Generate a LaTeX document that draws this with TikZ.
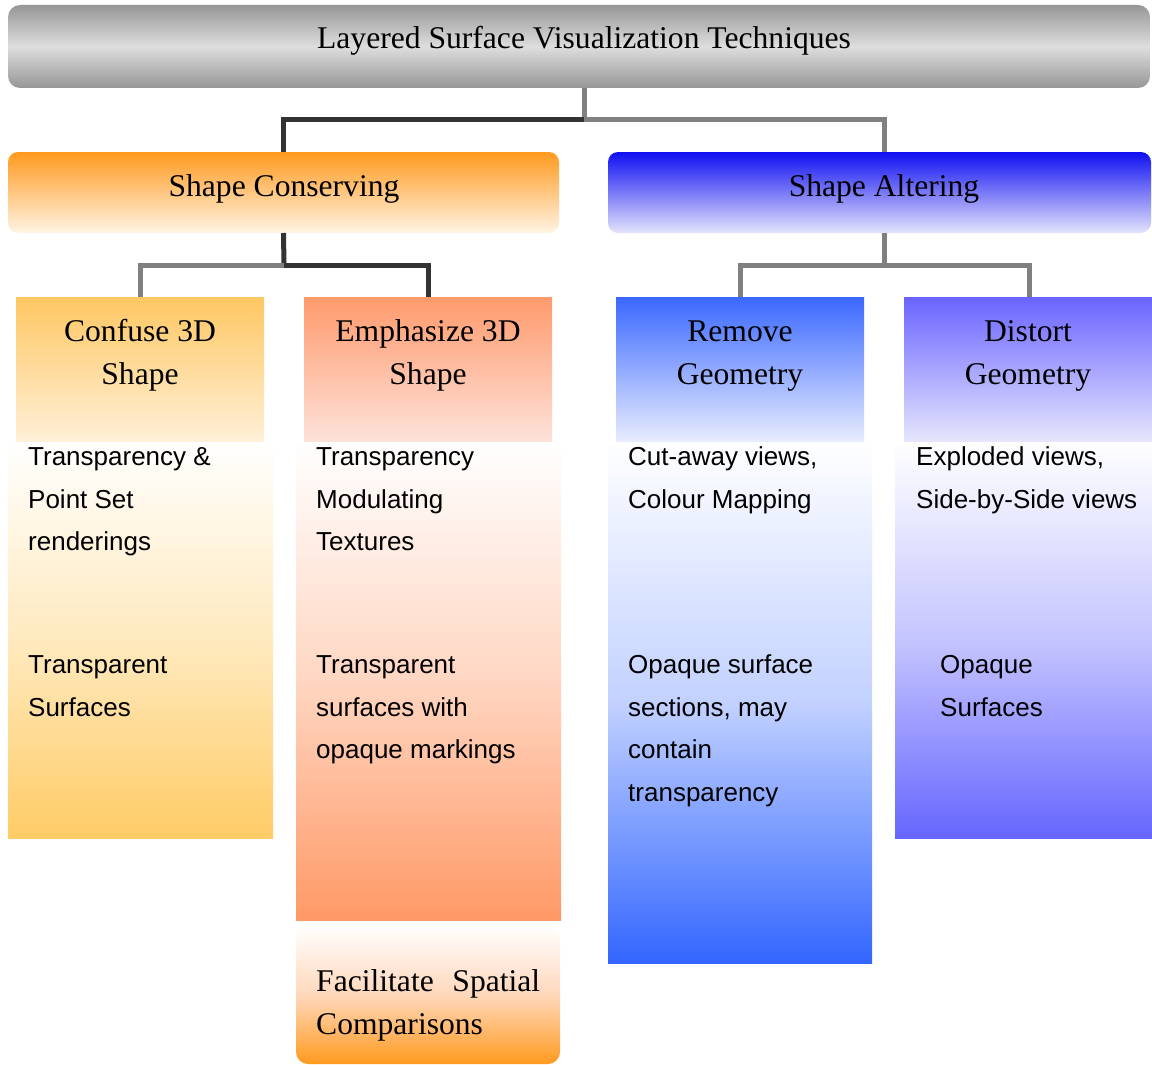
\documentclass[tikz,border=0pt]{standalone}
\usepackage{fontspec}
\setmainfont{Liberation Serif}
\setsansfont{Liberation Sans}
\usetikzlibrary{calc}
\definecolor{grayA}{HTML}{969696}
\definecolor{grayB}{HTML}{DEDEDE}
\definecolor{orgA}{HTML}{FF9A1F}
\definecolor{orgB}{HTML}{FFF4E4}
\definecolor{bluA}{HTML}{1010F2}
\definecolor{bluB}{HTML}{E4E4FC}
\definecolor{cfA}{HTML}{FEC762}
\definecolor{cfB}{HTML}{FFF0D8}
\definecolor{cfC}{HTML}{FFCC66}
\definecolor{emA}{HTML}{FF9A6C}
\definecolor{emB}{HTML}{FDE2DA}
\definecolor{emC}{HTML}{FF9966}
\definecolor{rgA}{HTML}{3A68FF}
\definecolor{rgB}{HTML}{E8ECFE}
\definecolor{rgC}{HTML}{3366FF}
\definecolor{dgA}{HTML}{6A64FF}
\definecolor{dgB}{HTML}{E6E6FE}
\definecolor{dgC}{HTML}{6666FF}
\definecolor{fsA}{HTML}{FF9A1F}
\definecolor{fsM}{HTML}{FFD8BC}
\definecolor{linedark}{HTML}{333333}
\definecolor{linegray}{HTML}{808080}
\begin{document}
\begin{tikzpicture}[x=1pt,y=-1pt,
  box/.style={anchor=north west, inner sep=0pt, outer sep=0pt, draw=none},
  hd/.style={font=\fontsize{31.6}{43}\selectfont, anchor=base, align=center, inner sep=0pt},
  bd/.style={font=\sffamily\fontsize{26}{42.5}\selectfont, anchor=base west, align=left, inner sep=0pt},
  darkline/.style={draw=linedark, line width=5pt},
  grayline/.style={draw=linegray, line width=5pt},
]
\useasboundingbox (0,0) rectangle (1152,1065);
\fill[white] (0,0) rectangle (1152,1065);

% top bar
\node[box, minimum width=1142pt, minimum height=83pt, rounded corners=12pt,
      top color=grayA, bottom color=grayA, middle color=grayB] (top) at (8,5) {};
\node[hd] (toptxt) at (584,49) {Layered Surface Visualization Techniques};

% level 2
\node[box, minimum width=551pt, minimum height=81pt, rounded corners=10pt,
      top color=orgA, bottom color=orgB] (sc) at (8,152) {};
\node[hd] (sctxt) at (284,196) {Shape Conserving};
\node[box, minimum width=543pt, minimum height=81pt, rounded corners=10pt,
      top color=bluA, bottom color=bluB] (sa) at (608,152) {};
\node[hd] (satxt) at (884,196) {Shape Altering};

% content boxes
\node[box, minimum width=265pt, minimum height=397pt,
      top color=white, bottom color=cfC, middle color=cfC!42!white] (cfb) at (8,441) {};
\node[box, minimum width=265pt, minimum height=479pt,
      top color=white, bottom color=emC, middle color=emC!40!white] (emb) at (296,441) {};
\node[box, minimum width=264pt, minimum height=522pt,
      top color=white, bottom color=rgC, middle color=rgC!30!white] (rgb) at (608,441) {};
\node[box, minimum width=260pt, minimum height=397pt,
      top color=white, bottom color=dgC, middle color=dgC!38!white] (dgb) at (895,441) {};

% level 3 headers
\node[box, minimum width=248pt, minimum height=144pt,
      top color=cfA, bottom color=cfB] (cf) at (16,297) {};
\node[box, minimum width=248pt, minimum height=144pt,
      top color=emA, bottom color=emB] (em) at (304,297) {};
\node[box, minimum width=248pt, minimum height=144pt,
      top color=rgA, bottom color=rgB] (rg) at (616,297) {};
\node[box, minimum width=250pt, minimum height=144pt,
      top color=dgA, bottom color=dgB] (dg) at (904,297) {};

% (base anchor = last line's baseline)
\node[hd] (cftxt) at (140,384) {Confuse 3D\\Shape};
\node[hd] (emtxt) at (428,384) {Emphasize 3D\\Shape};
\node[hd] (rgtxt) at (740,384) {Remove\\Geometry};
\node[hd] (dgtxt) at (1028,384) {Distort\\Geometry};

% facilitate box
\node[box, minimum width=264pt, minimum height=139pt, rounded corners=12pt,
      top color=white, bottom color=fsA, middle color=fsM] (fs) at (296,925) {};
\node[hd, anchor=base west, align=left] (fstxt) at (316,1034)
      {\makebox[224pt][s]{Facilitate\hfill Spatial}\\Comparisons};

% body texts
\node[bd] (cf1) at (28,550.5) {Transparency \&\\Point Set\\renderings};
\node[bd] (cf2) at (28,716) {Transparent\\Surfaces};
\node[bd] (em1) at (316,550.5) {Transparency\\Modulating\\Textures};
\node[bd] (em2) at (316,758.5) {Transparent\\surfaces with\\opaque markings};
\node[bd] (rg1) at (628,508) {Cut-away views,\\Colour Mapping};
\node[bd] (rg2) at (628,801) {Opaque surface\\sections, may\\contain\\transparency};
\node[bd] (dg1) at (916,508) {Exploded views,\\Side-by-Side views};
\node[bd] (dg2) at (940,716) {Opaque\\Surfaces};

% connectors
\coordinate (j1) at (584,119);
\coordinate (j2) at (284,265);
\coordinate (j3) at (884,265);
\draw[grayline] (top.south -| j1) -- (j1);
\draw[darkline] (j1) -| (sc.north);
\draw[grayline] (j1) -| (sa.north -| j3);
\draw[darkline] (sc.south) -- (j2);
\draw[grayline] (j2) -| (cf.north);
\draw[darkline] (j2) -| (em.north);
\draw[grayline] (sa.south -| j3) -- (j3);
\draw[grayline] (j3) -| (rg.north);
\draw[grayline] (j3) -| (dg.north);
\end{tikzpicture}
\end{document}
